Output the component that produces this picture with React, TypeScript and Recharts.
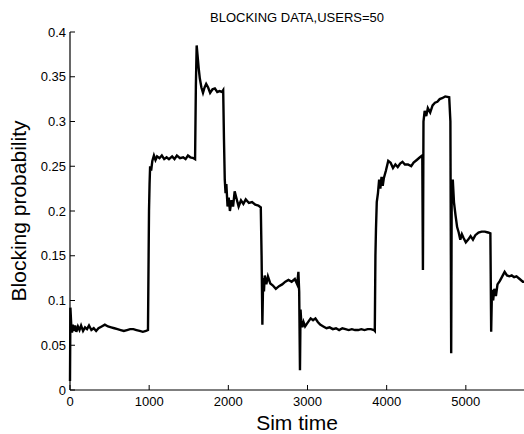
import { LineChart, Line, XAxis, YAxis } from "recharts";

// sim time samples and blocking probability
const simTime = [
  0, 5, 15, 25, 35, 50, 65, 80, 100, 120, 140, 165, 190, 215, 240, 270, 300, 330, 360, 400,
  440, 480, 520, 560, 600, 640, 680, 720, 760, 800, 840, 880, 920, 960, 985, 992, 998, 1005, 1012, 1025,
  1040, 1060, 1080, 1100, 1130, 1160, 1190, 1220, 1250, 1290, 1320, 1350, 1390, 1430, 1460, 1490, 1520, 1560, 1580, 1590,
  1600, 1610, 1625, 1640, 1660, 1680, 1700, 1720, 1745, 1770, 1800, 1830, 1860, 1890, 1920, 1935, 1945, 1955, 1965, 1975,
  1990, 2005, 2020, 2040, 2060, 2080, 2100, 2130, 2160, 2190, 2220, 2260, 2300, 2340, 2380, 2410, 2420, 2430, 2440, 2450,
  2460, 2480, 2500, 2530, 2560, 2600, 2640, 2680, 2720, 2760, 2800, 2840, 2870, 2885, 2895, 2905, 2912, 2920, 2935, 2950,
  2970, 3000, 3040, 3070, 3100, 3130, 3160, 3200, 3240, 3280, 3320, 3360, 3400, 3440, 3480, 3520, 3560, 3600, 3640, 3680,
  3720, 3760, 3800, 3840, 3850, 3858, 3865, 3875, 3890, 3905, 3920, 3935, 3950, 3965, 3990, 4020, 4050, 4080, 4110, 4140,
  4170, 4200, 4230, 4270, 4310, 4340, 4380, 4420, 4450, 4458, 4465, 4480, 4500, 4520, 4550, 4580, 4610, 4640, 4670, 4700,
  4740, 4790, 4805, 4815, 4822, 4835, 4850, 4870, 4890, 4910, 4930, 4950, 4970, 5000, 5030, 5060, 5090, 5120, 5160, 5200,
  5240, 5280, 5310, 5320, 5330, 5345, 5360, 5380, 5400, 5430, 5460, 5490, 5520, 5550, 5580, 5610, 5640, 5680, 5720, 5740,
];

const blockingProb = [
  0.01, 0.092, 0.074, 0.064, 0.073, 0.066, 0.072, 0.065, 0.071, 0.067, 0.072, 0.066, 0.07, 0.068, 0.072, 0.067, 0.069, 0.066, 0.069, 0.071,
  0.073, 0.071, 0.07, 0.069, 0.068, 0.067, 0.066, 0.067, 0.068, 0.068, 0.067, 0.066, 0.065, 0.066, 0.067, 0.14, 0.2, 0.23, 0.25, 0.245,
  0.256, 0.262, 0.257, 0.261, 0.259, 0.262, 0.258, 0.26, 0.258, 0.261, 0.258, 0.262, 0.259, 0.26, 0.258, 0.262, 0.26, 0.259, 0.258, 0.34,
  0.385, 0.375, 0.36, 0.348, 0.338, 0.332, 0.338, 0.342, 0.338, 0.332, 0.336, 0.337, 0.333, 0.334, 0.333, 0.335, 0.28, 0.235, 0.22, 0.23,
  0.205, 0.215, 0.2, 0.212, 0.205, 0.222, 0.215, 0.205, 0.212, 0.208, 0.213, 0.209, 0.21, 0.207, 0.206, 0.204, 0.15, 0.073, 0.125, 0.11,
  0.128, 0.118, 0.127, 0.119, 0.117, 0.113, 0.116, 0.118, 0.121, 0.123, 0.121, 0.124, 0.118, 0.132, 0.11, 0.022, 0.09, 0.078, 0.07, 0.076,
  0.071, 0.075, 0.08, 0.078, 0.08, 0.076, 0.073, 0.071, 0.069, 0.07, 0.068, 0.069, 0.067, 0.069, 0.068, 0.067, 0.068, 0.067, 0.067, 0.068,
  0.067, 0.068, 0.068, 0.067, 0.066, 0.15, 0.18, 0.21, 0.22, 0.235, 0.225, 0.238, 0.228, 0.237, 0.245, 0.256, 0.254, 0.248, 0.252, 0.249,
  0.253, 0.255, 0.252, 0.252, 0.25, 0.254, 0.257, 0.26, 0.262, 0.134, 0.3, 0.312, 0.306, 0.315, 0.31, 0.318, 0.321, 0.322, 0.325, 0.326,
  0.328, 0.327, 0.3, 0.041, 0.23, 0.235, 0.21, 0.195, 0.182, 0.176, 0.168, 0.174, 0.17, 0.165, 0.168, 0.172, 0.168, 0.173, 0.176, 0.177,
  0.177, 0.176, 0.175, 0.065, 0.112, 0.1, 0.113, 0.105, 0.118, 0.122, 0.127, 0.132, 0.128, 0.127, 0.128, 0.126, 0.127, 0.124, 0.121, 0.121,
];

const xTicks = [0, 1000, 2000, 3000, 4000, 5000];
const yTicks = [0, 0.05, 0.1, 0.15, 0.2, 0.25, 0.3, 0.35, 0.4];

const data = simTime.map((t, i) => ({ t, p: blockingProb[i] }));

const FONT = "'Liberation Sans', Arial, sans-serif";
const TICK_LEN = 5;

const BottomTick = ({ x, y, payload }: any) => (
  <g>
    <line x1={x} y1={y} x2={x} y2={y - TICK_LEN} stroke="#000" />
    <text x={x} y={y + 16} textAnchor="middle" fontSize={13} fontFamily={FONT} fill="#000">
      {payload.value}
    </text>
  </g>
);

const LeftTick = ({ x, y, payload }: any) => (
  <g>
    <line x1={x} y1={y} x2={x + TICK_LEN} y2={y} stroke="#000" />
    <text x={x - 4} y={y + 4.5} textAnchor="end" fontSize={13} fontFamily={FONT} fill="#000">
      {String(payload.value)}
    </text>
  </g>
);

const TopTick = ({ x, y }: any) => (
  <line x1={x} y1={y} x2={x} y2={y + TICK_LEN} stroke="#000" />
);

const RightTick = ({ x, y }: any) => (
  <line x1={x} y1={y} x2={x - TICK_LEN} y2={y} stroke="#000" />
);

export default function App() {
  return (
    <div style={{ position: "absolute", left: 0, top: 0, width: 524, height: 434, overflow: "hidden", background: "#fff" }}>
      <LineChart
        width={526}
        height={434}
        data={data}
        margin={{ top: 32, right: 0, bottom: 0, left: 0 }}
      >
        <XAxis
          dataKey="t"
          type="number"
          domain={[0, 5760]}
          ticks={xTicks}
          interval={0}
          tickSize={0}
          tickMargin={0}
          tick={<BottomTick />}
          height={44}
          axisLine={{ stroke: "#000", strokeWidth: 1.2 }}
        />
        <XAxis
          xAxisId="top"
          orientation="top"
          type="number"
          domain={[0, 5760]}
          ticks={xTicks}
          interval={0}
          tickSize={0}
          tickMargin={0}
          tick={<TopTick />}
          height={0}
          axisLine={{ stroke: "#000", strokeWidth: 1.2 }}
        />
        <YAxis
          type="number"
          domain={[0, 0.4]}
          ticks={yTicks}
          interval={0}
          tickSize={0}
          tickMargin={0}
          tick={<LeftTick />}
          width={70}
          axisLine={{ stroke: "#000", strokeWidth: 1.2 }}
        />
        <YAxis
          yAxisId="right"
          orientation="right"
          type="number"
          domain={[0, 0.4]}
          ticks={yTicks}
          interval={0}
          tickSize={0}
          tickMargin={0}
          tick={<RightTick />}
          width={0}
          axisLine={{ stroke: "#000", strokeWidth: 1.2 }}
        />
        <Line
          type="linear"
          dataKey="p"
          stroke="#000"
          strokeWidth={2.4}
          dot={false}
          isAnimationActive={false}
        />
        <text x={297} y={22} textAnchor="middle" fontSize={13} fontFamily={FONT} fill="#000">
          BLOCKING DATA,USERS=50
        </text>
        <text x={297} y={430} textAnchor="middle" fontSize={21} fontFamily={FONT} fill="#000">
          Sim time
        </text>
        <text
          x={26}
          y={211}
          textAnchor="middle"
          fontSize={21}
          fontFamily={FONT}
          fill="#000"
          transform="rotate(-90 26 211)"
        >
          Blocking probability
        </text>
      </LineChart>
    </div>
  );
}
